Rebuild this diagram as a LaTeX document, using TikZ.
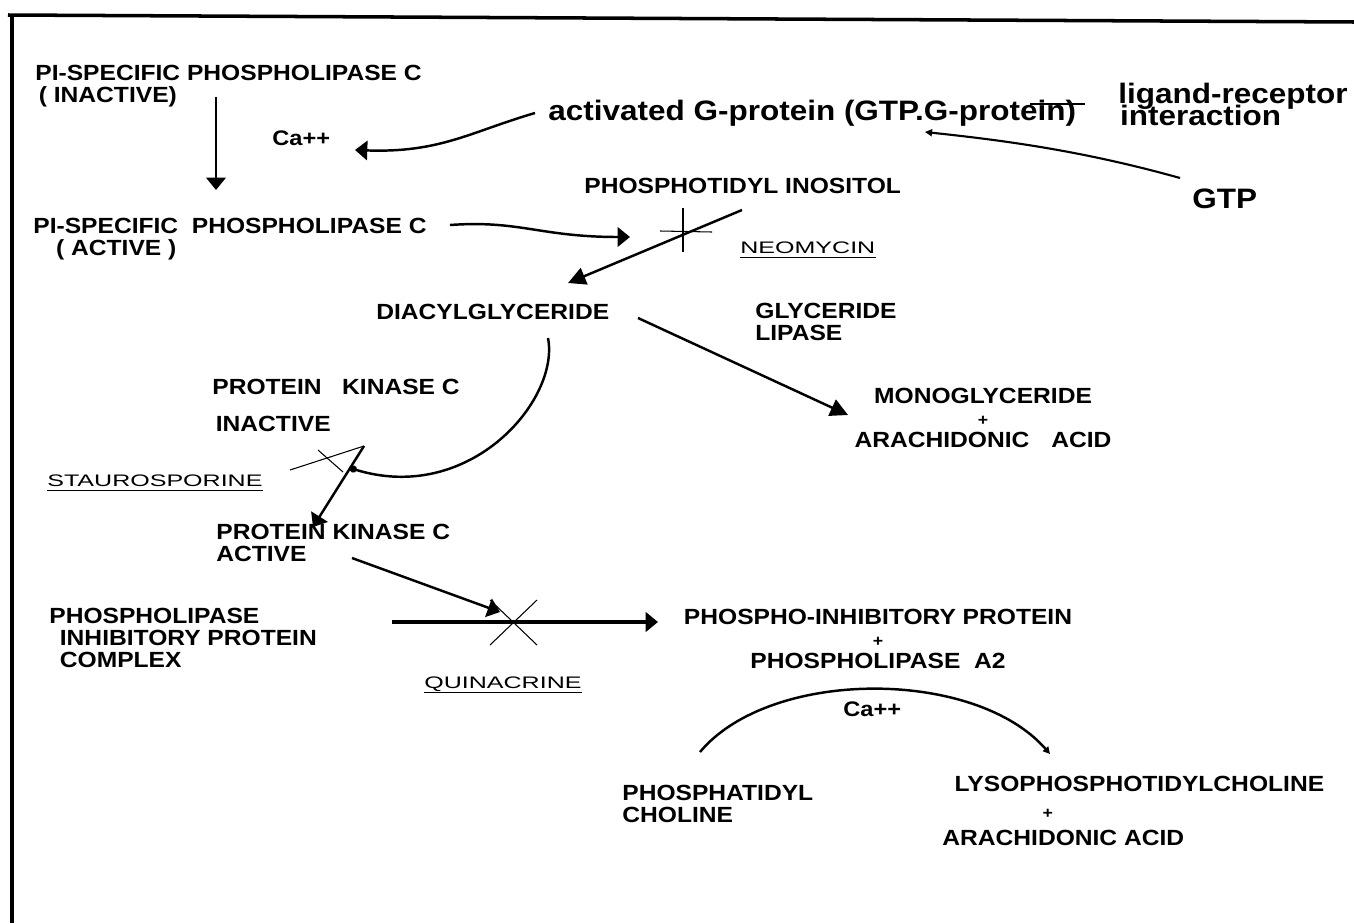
\documentclass[tikz,border=0pt]{standalone}
\usepackage{fontspec}
\usetikzlibrary{arrows.meta}
\newfontfamily\labfont[FakeStretch=1.12]{Liberation Sans}
\newfontfamily\thinfont[FakeStretch=1.5]{Liberation Sans}
\begin{document}
\begin{tikzpicture}[x=0.02cm,y=-0.02cm,
  lab/.style={font=\labfont\bfseries\fontsize{12.5}{12.5}\selectfont,inner sep=0pt,anchor=base west,align=left},
  labc/.style={lab,align=center,anchor=base},
  big/.style={font=\labfont\bfseries\fontsize{16}{12.5}\selectfont,inner sep=0pt,anchor=base west,align=left},
  smalltxt/.style={font=\labfont\bfseries\fontsize{12}{12}\selectfont,inner sep=0pt,anchor=base west},
  drug/.style={font=\thinfont\fontsize{9.5}{9.5}\selectfont,inner sep=0pt,anchor=base west},
  conn/.style={line width=1.4pt},
  thinln/.style={line width=0.6pt},
  tipA/.style={-{Triangle[length=7pt,width=11pt]}},
  tipB/.style={-{Triangle[length=10pt,width=10pt]}},
  tipS/.style={-{Triangle[length=4pt,width=4pt]}},
  tipD/.style={-{Circle[length=4pt]}},
]
\useasboundingbox (0,0) rectangle (1354,923);
\fill[white] (0,0) rectangle (1354,923);
% frame
\draw[line width=2pt] (8,15) -- (1354,22);
\draw[line width=2.5pt] (12,14) -- (12,923);

% labels (multi-line nodes are placed at the baseline of their last line)
\node[lab] (plcI) at (35,102) {PI-SPECIFIC PHOSPHOLIPASE C\\\hspace{2pt}( INACTIVE)};
\node[smalltxt] (ca1) at (272,145) {Ca++};
\node[big] (gprot) at (548,120) {activated G-protein (GTP.G-protein)};
\node[big] (lig) at (1118,125) {ligand-receptor\\[-3.6pt]\hspace{1pt}interaction};
\node[big] (gtp) at (1192,208) {GTP};
\node[lab] (pi) at (584,193) {PHOSPHOTIDYL INOSITOL};
\node[lab] (plcA) at (33,255) {PI-SPECIFIC\ \ PHOSPHOLIPASE C\\\hspace{13pt}( ACTIVE )};
\node[drug] (neo) at (740,253) {NEOMYCIN};
\node[lab] (dag) at (376,319) {DIACYLGLYCERIDE};
\node[lab] (gl) at (755,340) {GLYCERIDE\\LIPASE};
\node[labc] (mono) at (983,447) {MONOGLYCERIDE\\{\fontsize{9}{12.5}\selectfont +}\\ARACHIDONIC\quad ACID};
\node[lab] (pkcI) at (212,431) {PROTEIN\ \ \ KINASE C\\[8pt]\hspace{2pt}INACTIVE};
\node[drug] (stauro) at (47,486) {STAUROSPORINE};
\node[lab] (pkcA) at (216,561) {PROTEIN KINASE C\\ACTIVE};
\node[lab] (plip) at (49,667) {PHOSPHOLIPASE\\\hspace{6pt}INHIBITORY PROTEIN\\\hspace{6pt}COMPLEX};
\node[drug] (quin) at (424,688) {QUINACRINE};
\node[labc] (pip) at (878,668) {PHOSPHO-INHIBITORY PROTEIN\\{\fontsize{9}{12.5}\selectfont +}\\PHOSPHOLIPASE\ \ A2};
\node[smalltxt] (ca2) at (843,716) {Ca++};
\node[lab] (pc) at (622,822) {PHOSPHATIDYL\\CHOLINE};
\node[lab,font=\labfont\bfseries\fontsize{12.5}{15.3}\selectfont] (lyso) at (942,845) {\hspace{7pt}LYSOPHOSPHOTIDYLCHOLINE\\\hspace{57pt}{\fontsize{9}{15.3}\selectfont +}\\ARACHIDONIC ACID};

% underlines
\draw[thinln] ([yshift=-2.5pt]neo.base west) -- ([yshift=-2.5pt]neo.base east);
\draw[thinln] ([yshift=-2.5pt]stauro.base west) -- ([yshift=-2.5pt]stauro.base east);
\draw[thinln] ([yshift=-2.5pt]quin.base west) -- ([yshift=-2.5pt]quin.base east);

% coordinates
\coordinate (c1s) at (216,97);
\coordinate (c1e) at (216,190);
\coordinate (c2s) at (535,113);
\coordinate (c2e) at (355,150);
\coordinate (c3s) at (1180,178);
\coordinate (c3e) at (925,132);
\coordinate (c4s) at (1085,104);
\coordinate (c4e) at (1030,104);
\coordinate (c5s) at (450,225);
\coordinate (c5e) at (630,237);
\coordinate (c6s) at (742,210);
\coordinate (c6e) at (568,283);
\coordinate (c7s) at (638,318);
\coordinate (c7e) at (848,415);
\coordinate (c8s) at (548,338);
\coordinate (c8e) at (350,468);
\coordinate (c9s) at (364,446);
\coordinate (c9e) at (313,527);
\coordinate (c10s) at (352,558);
\coordinate (c10e) at (500,612);
\coordinate (c11s) at (392,622);
\coordinate (c11e) at (658,622);
\coordinate (c12s) at (700,752);
\coordinate (c12e) at (1050,754);

% connectors
\draw[conn,tipA] (c1s) -- (c1e);
\draw[conn,tipA] (c2s) .. controls (470,132) and (440,153) .. (c2e);
\draw[line width=1.2pt,tipS] (c3s) .. controls (1080,150) and (1000,140) .. (c3e);
\draw[conn] (c4s) -- (c4e);
\draw[conn,tipA] (c5s) .. controls (520,220) and (540,237) .. (c5e);
\draw[conn,tipB] (c6s) -- (c6e);
\draw[conn,tipB] (c7s) -- (c7e);
\draw[conn,tipD] (c8s) .. controls (560,400) and (470,505) .. (c8e);
\draw[conn,tipA] (c9s) -- (c9e);
\draw[conn,tipA] (c10s) -- (c10e);
\draw[line width=1.8pt,tipA] (c11s) -- (c11e);
\draw[conn,tipS] (c12s) .. controls (770,668) and (975,668) .. (c12e);

% inhibition crosses
\draw[thinln] (683,208) -- (683,252);
\draw[thinln] (660,231) -- (712,232);
\draw[thinln] (290,470) -- (364,446);
\draw[thinln] (318,450) -- (343,472);
\draw[thinln] (490,600) -- (537,645);
\draw[thinln] (537,600) -- (490,645);
\end{tikzpicture}
\end{document}
